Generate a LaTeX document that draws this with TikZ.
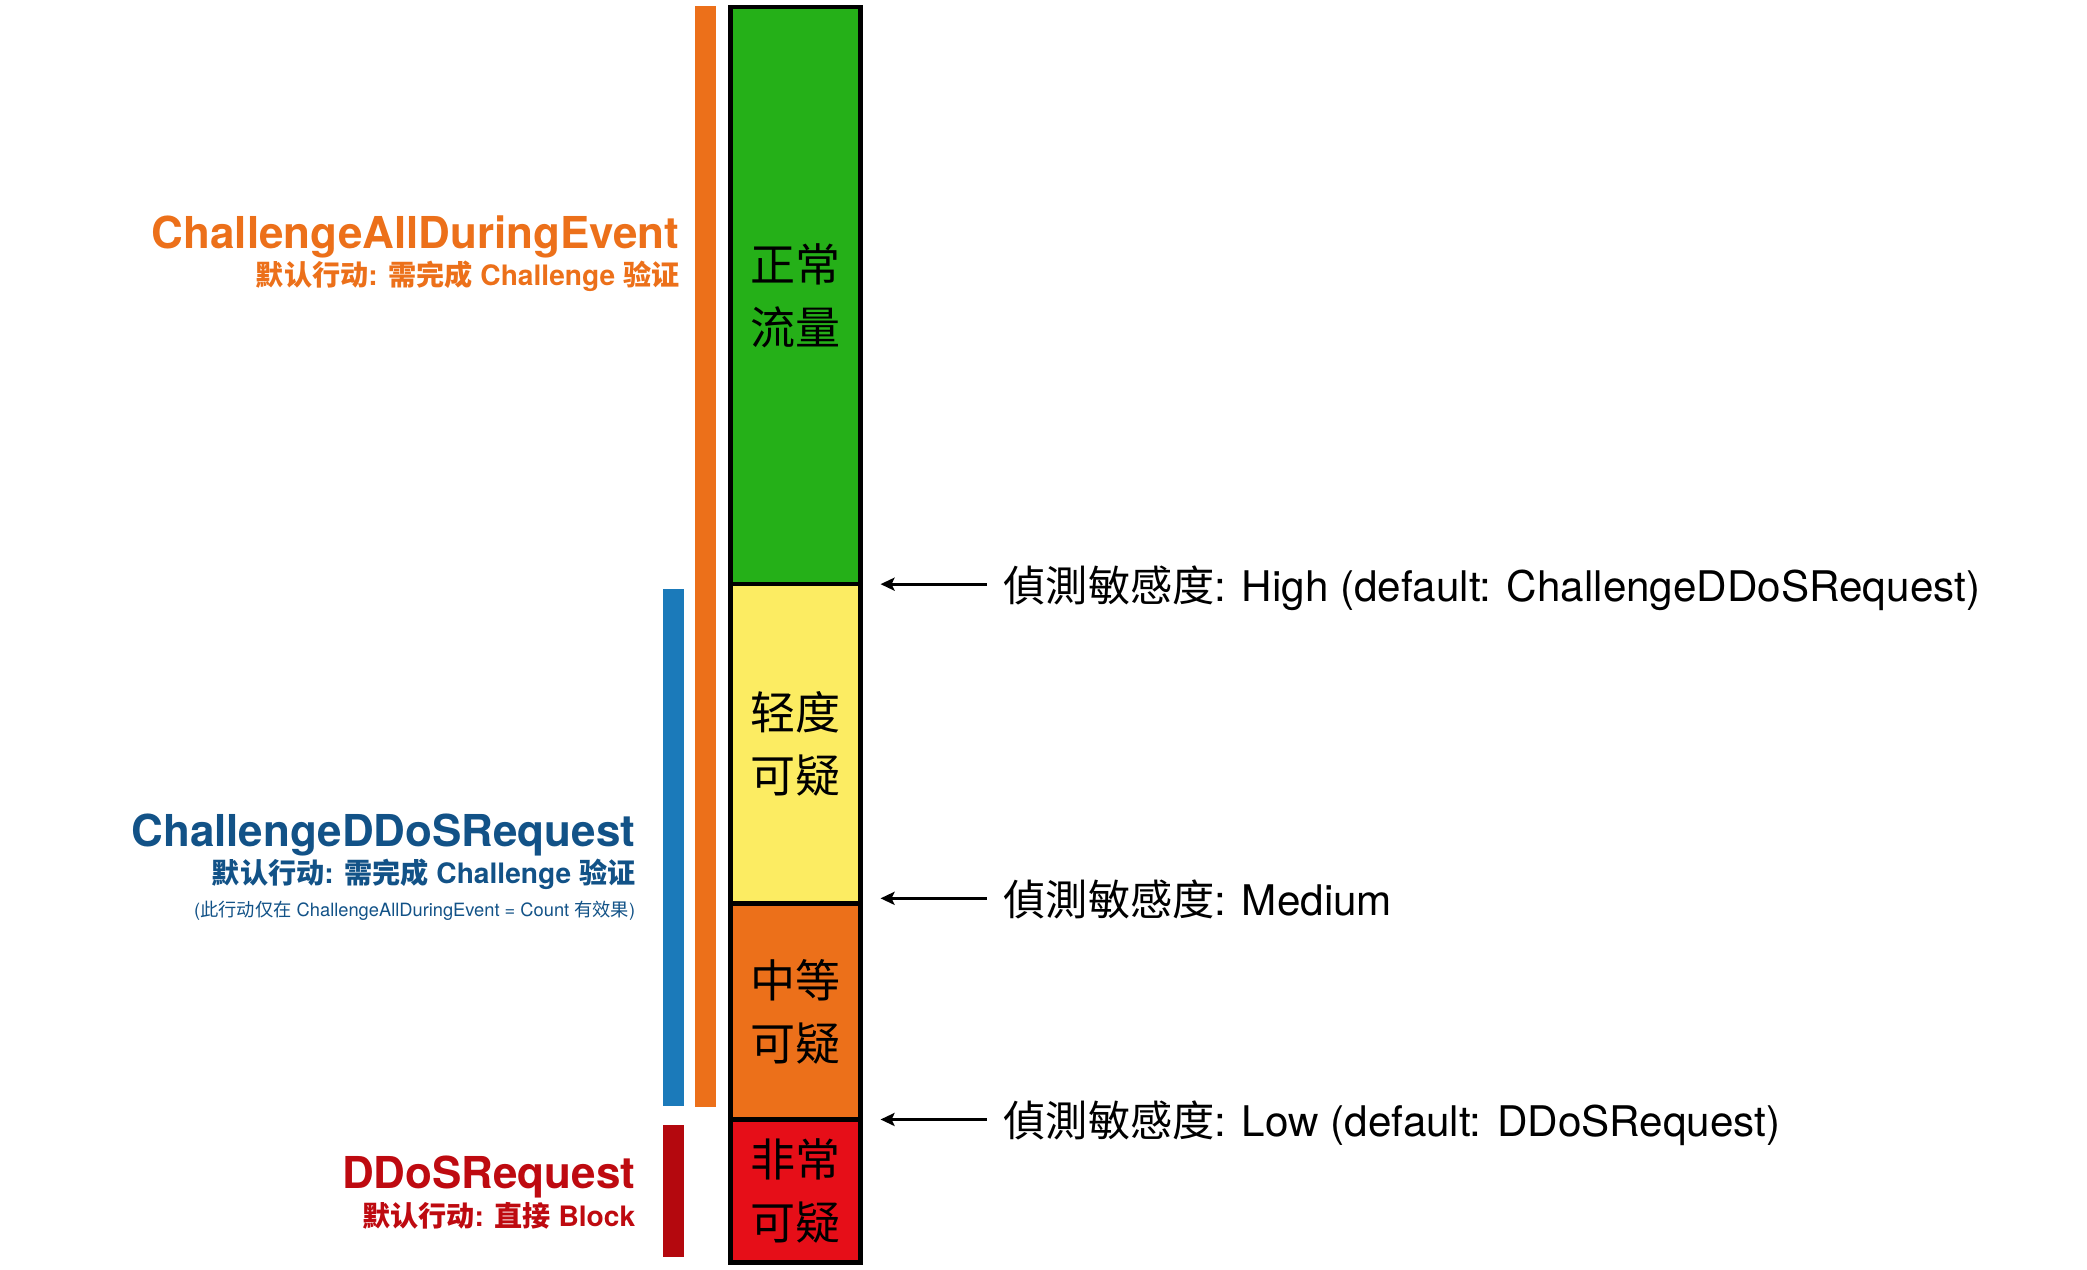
\documentclass[tikz,border=0pt]{standalone}
\usepackage{fontspec}
\setmainfont{TeX Gyre Heros}
\newfontfamily\cjk{Noto Sans CJK SC}
\usetikzlibrary{positioning,arrows.meta}
\definecolor{segGreen}{RGB}{37,176,24}
\definecolor{segYellow}{RGB}{252,236,98}
\definecolor{segOrange}{RGB}{236,112,26}
\definecolor{segRed}{RGB}{230,14,24}
\definecolor{barBlue}{RGB}{27,122,186}
\definecolor{barRed}{RGB}{180,8,14}
\definecolor{txtBlue}{RGB}{18,82,135}
\definecolor{txtRed}{RGB}{190,10,16}

\begin{document}
\begin{tikzpicture}[x=0.01cm,y=-0.01cm]
    \tikzstyle{segment}=[draw=black,line width=0.045cm,minimum width=1.30cm,inner sep=0pt,outer sep=0pt,align=center,font=\cjk\fontsize{12.8pt}{17.9pt}\selectfont]
	\tikzstyle{bar}=[inner sep=0pt,outer sep=0pt,minimum width=0.21cm,anchor=north]
	\tikzstyle{head}=[inner sep=0pt,anchor=base east,font=\bfseries\fontsize{12.5pt}{15pt}\selectfont]
	\tikzstyle{sub}=[inner sep=0pt,anchor=base east,font=\bfseries\fontsize{8pt}{10pt}\selectfont]
	\tikzstyle{note}=[inner sep=0pt,anchor=base east,font=\fontsize{5.2pt}{6.5pt}\selectfont]
	\tikzstyle{sens}=[inner xsep=0.17cm,inner ysep=0pt,outer sep=0pt,text height=0.44cm,text depth=0.1cm,font=\fontsize{12pt}{14pt}\selectfont]
	\tikzstyle{pointer}=[->,>={Stealth[length=0.14cm,width=0.13cm,inset=0.03cm]},line width=0.033cm]

	\useasboundingbox (0,0) rectangle (2087,1270);

	% Draw the traffic column
	\node[segment,fill=segGreen,minimum height=5.77cm] (normal) at (795.5,295.5) {正常\\流量};
	\node[segment,fill=segYellow,minimum height=3.19cm,below=0pt of normal] (light) {轻度\\可疑};
	\node[segment,fill=segOrange,minimum height=2.16cm,below=0pt of light] (medium) {中等\\可疑};
	\node[segment,fill=segRed,minimum height=1.43cm,below=0pt of medium] (severe) {非常\\可疑};

	% Draw the action bars
	\node[bar,fill=segOrange,minimum height=11.0cm] (allBar) at (705.5,6) {};
	\node[bar,fill=barBlue,minimum height=5.17cm] (ddosBar) at (673.5,589) {};
	\node[bar,fill=barRed,minimum height=1.32cm] (blockBar) at (673.5,1125) {};

	% Label the rule groups
	\node[head,text=segOrange] (allHead) at (680,249) {ChallengeAllDuringEvent};
	\node[sub,text=segOrange] (allSub) at ([yshift=-0.36cm]allHead.base east) {{\cjk 默认行动}: {\cjk 需完成} Challenge {\cjk 验证}};
	\node[head,text=txtBlue] (ddosHead) at (636,846) {ChallengeDDoSRequest};
	\node[sub,text=txtBlue] (ddosSub) at ([yshift=-0.37cm]ddosHead.base east) {{\cjk 默认行动}: {\cjk 需完成} Challenge {\cjk 验证}};
	\node[note,text=txtBlue] (ddosNote) at ([yshift=-0.33cm]ddosSub.base east) {({\cjk 此行动仅在} ChallengeAllDuringEvent = Count {\cjk 有效果})};
	\node[head,text=txtRed] (blockHead) at (636,1188) {DDoSRequest};
	\node[sub,text=txtRed] (blockSub) at ([yshift=-0.38cm]blockHead.base east) {{\cjk 默认行动}: {\cjk 直接} Block};

	% Point the sensitivity levels at the borders
	\foreach \name/\seg/\dy/\txt in {High/normal/0/{High (default: ChallengeDDoSRequest)},Medium/light/0.05/{Medium},Low/medium/0/{Low (default: DDoSRequest)}}
	{
		\coordinate (tip\name) at ([xshift=0.2cm,yshift=\dy cm]\seg.south east);
		\node[sens,right=1.06cm of tip\name] (sens\name) {{\cjk 偵測敏感度}: \txt};
		\draw[pointer] (sens\name) -- (tip\name);
	}
\end{tikzpicture}
\end{document}
